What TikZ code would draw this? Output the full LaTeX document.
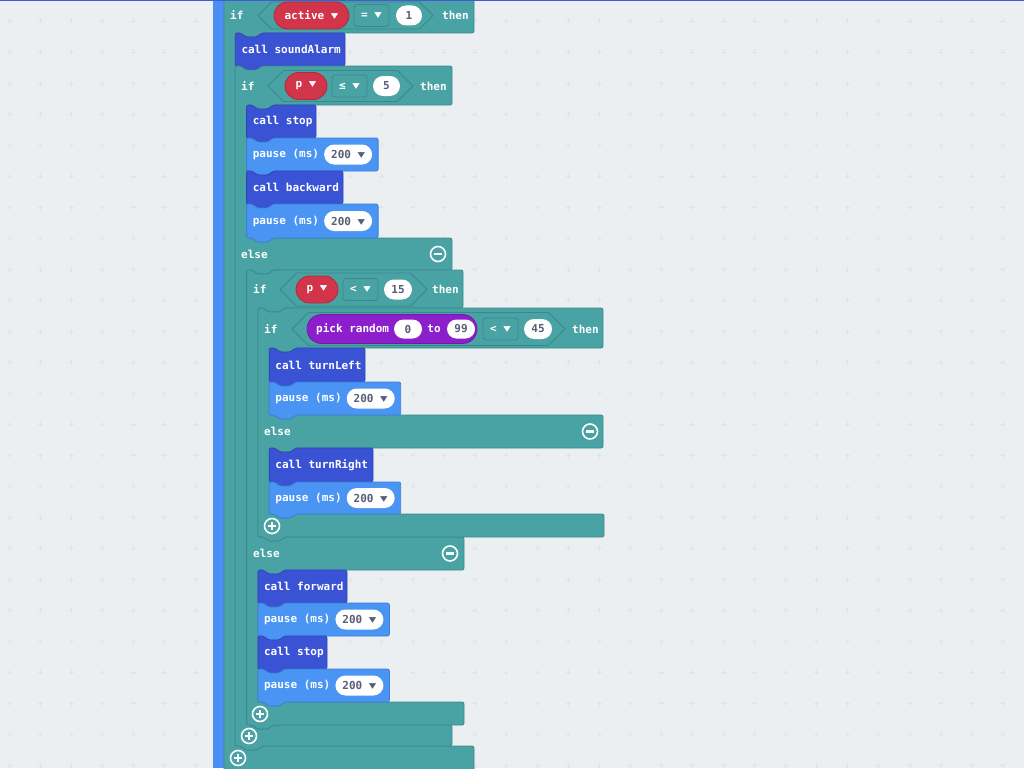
\documentclass[tikz,border=0pt]{standalone}
\usepackage{fontspec}
\newfontfamily\blkfont{DejaVu Sans Mono}
\newfontfamily\symfont{DejaVu Sans}
\usetikzlibrary{shapes.misc}
\definecolor{canvas}{HTML}{ECEFF1}
\definecolor{gridgray}{HTML}{E0E3E6}
\definecolor{strip}{HTML}{4B8FF4}
\definecolor{topline}{HTML}{4458D9}
\definecolor{logic}{HTML}{49A3A4}
\definecolor{logicdark}{HTML}{3B898A}
\definecolor{callblue}{HTML}{3A53D5}
\definecolor{calldark}{HTML}{2F45B8}
\definecolor{pauseblue}{HTML}{4A94F4}
\definecolor{pausedark}{HTML}{3E80D8}
\definecolor{varred}{HTML}{D2354A}
\definecolor{vardark}{HTML}{B02A3C}
\definecolor{mathpurple}{HTML}{8C1FCB}
\definecolor{mathdark}{HTML}{7418AA}
\definecolor{numgray}{HTML}{575E75}
\tikzset{
  txt/.style={font=\blkfont\bfseries\fontsize{11}{13}\selectfont, text=white, inner sep=0pt},
  lbl/.style={txt, anchor=west},
  ifblk/.style={fill=logic, draw=logicdark, line width=0.8pt, rounded corners=2pt},
  callblk/.style={fill=callblue, draw=calldark, line width=0.8pt, rounded corners=2pt},
  pauseblk/.style={fill=pauseblue, draw=pausedark, line width=0.8pt, rounded corners=2pt},
  slot/.style={draw=logicdark, line width=0.8pt},
  ddbox/.style={txt, draw=logicdark, line width=0.8pt, rounded corners=3pt, minimum height=22pt, minimum width=35pt},
  varpill/.style={txt, rounded rectangle, fill=varred, draw=vardark, line width=0.8pt, minimum height=27pt},
  numpill/.style={txt, text=numgray, rounded rectangle, fill=white, minimum height=20pt},
  rndpill/.style={txt, rounded rectangle, fill=mathpurple, draw=mathdark, line width=0.8pt, minimum height=29pt},
  icon/.style={draw=white, line width=1.6pt},
  iconbar/.style={draw=white, line width=2.2pt},
  gridmark/.style={draw=gridgray, line width=0.5pt}
}
\newcommand{\dd}{\scalebox{1.35}[1.05]{\symfont ▾}}
\newcommand{\ntop}[2]{-- ({#1+6},#2) -- ({#1+10},{#2+4}) -- ({#1+22},{#2+4}) -- ({#1+26},#2)}
\newcommand{\tabb}[2]{-- ({#1+26},#2) -- ({#1+22},{#2+4}) -- ({#1+10},{#2+4}) -- ({#1+6},#2)}
\newcommand{\hexslot}[4]{\draw[slot] (#1,#3) -- ({#1+#4},{#3-#4}) -- ({#2-#4},{#3-#4}) -- (#2,#3) -- ({#2-#4},{#3+#4}) -- ({#1+#4},{#3+#4}) -- cycle;}
\newcommand{\callrow}[6]{%
  \draw[callblk] (#2,#3) \ntop{#2}{#3} -- (#4,#3) -- (#4,#5) \tabb{#2}{#5} -- (#2,#5) -- cycle;
  \node[lbl] (#1) at ({#2+6},{(#3+#5)/2}) {#6};}
\newcommand{\pauserow}[4]{%
  \draw[pauseblk] (#2,#3) \ntop{#2}{#3} -- ({#2+131.5},#3) -- ({#2+131.5},#4) \tabb{#2}{#4} -- (#2,#4) -- cycle;
  \node[lbl] (#1) at ({#2+6},{(#3+#4)/2}) {pause (ms)};
  \node[numpill, minimum width=48pt] (#1v) at ({#2+101.5},{(#3+#4)/2}) {200 \dd};}
\newcommand{\plusicon}[2]{\draw[icon] (#1,#2) circle (7.5pt); \draw[iconbar] ({#1-4},#2) -- ({#1+4},#2) (#1,{#2-4}) -- (#1,{#2+4});}
\newcommand{\minusicon}[2]{\draw[icon] (#1,#2) circle (7.5pt); \draw[iconbar] ({#1-4},#2) -- ({#1+4},#2);}

\begin{document}
\begin{tikzpicture}[x=1pt,y=-1pt]
\useasboundingbox (0,0) rectangle (1024,768);
\clip (0,0) rectangle (1024,768);
\fill[canvas] (0,0) rectangle (1024,768);
\foreach \i in {0,...,32} \foreach \j in {0,...,24}
  \draw[gridmark] ({9+31.06*\i},{21+31*\j}) +(-2.5,0) -- +(2.5,0) +(0,-2.5) -- +(0,2.5);
\fill[strip] (213,0) rectangle (224,768);

% if active = 1
\draw[ifblk] (224,-5) \ntop{224}{-5} -- (474,-5) -- (474,33) \tabb{235.3}{33} -- (235.3,33) -- (235.3,746)
  \ntop{235.3}{746} -- (474,746) -- (474,790) -- (224,790) -- cycle;
\hexslot{258}{433}{15.5}{13.5}
\node[lbl] (ifa) at (230,15.5) {if};
\node[varpill, minimum width=75pt] (active) at (311.5,15.5) {active \dd};
\node[ddbox] (opa) at (371.5,15.5) {= \dd};
\node[numpill, minimum width=26pt] (one) at (409,15.5) {1};
\node[lbl] (thena) at (442,15.5) {then};
\plusicon{238}{758}

\callrow{alarm}{235.3}{33}{345}{66}{call soundAlarm}

% if p <= 5
\draw[ifblk] (235.3,66) \ntop{235.3}{66} -- (452,66) -- (452,105) \tabb{246.6}{105} -- (246.6,105) -- (246.6,238)
  \ntop{246.6}{238} -- (452,238) -- (452,270) \tabb{246.6}{270} -- (246.6,270) -- (246.6,725)
  \ntop{246.6}{725} -- (452,725) -- (452,746) \tabb{235.3}{746} -- (235.3,746) -- cycle;
\hexslot{268}{413}{86}{15.5}
\node[lbl] (ifb) at (241,86) {if};
\node[varpill, minimum width=42pt] (pb) at (306,86) {p \dd};
\node[ddbox] (opb) at (349.5,86) {≤ \dd};
\node[numpill, minimum width=27pt] (five) at (386.5,86) {5};
\node[lbl] (thenb) at (420,86) {then};
\node[lbl] (elseb) at (241,254) {else};
\minusicon{438}{254}
\plusicon{249}{736}

\callrow{stopa}{246.6}{105}{316}{138}{call stop}
\pauserow{pausea}{246.6}{138}{171}
\callrow{back}{246.6}{171}{343}{204}{call backward}
\pauserow{pauseb}{246.6}{204}{238}

% if p < 15
\draw[ifblk] (246.6,270) \ntop{246.6}{270} -- (463,270) -- (463,308) \tabb{257.9}{308} -- (257.9,308) -- (257.9,537)
  \ntop{257.9}{537} -- (464,537) -- (464,570) \tabb{257.9}{570} -- (257.9,570) -- (257.9,702)
  \ntop{257.9}{702} -- (464,702) -- (464,725) \tabb{246.6}{725} -- (246.6,725) -- cycle;
\hexslot{280}{427}{289.5}{16.5}
\node[lbl] (ifc) at (253,289.5) {if};
\node[varpill, minimum width=42pt] (pc) at (317,289.5) {p \dd};
\node[ddbox] (opc) at (360.5,289.5) {< \dd};
\node[numpill, minimum width=28pt] (fifteen) at (398,289.5) {15};
\node[lbl] (thenc) at (432,289.5) {then};
\node[lbl] (elsec) at (253,553.5) {else};
\minusicon{450}{553.5}
\plusicon{260}{714}

% if pick random < 45
\draw[ifblk] (257.9,308) \ntop{257.9}{308} -- (603,308) -- (603,348) \tabb{269.2}{348} -- (269.2,348) -- (269.2,415)
  \ntop{269.2}{415} -- (603,415) -- (603,448) \tabb{269.2}{448} -- (269.2,448) -- (269.2,514)
  \ntop{269.2}{514} -- (604,514) -- (604,537) \tabb{257.9}{537} -- (257.9,537) -- cycle;
\hexslot{292}{565}{329}{16.5}
\node[lbl] (ifd) at (264,329) {if};
\node[rndpill, minimum width=170pt] (rnd) at (392,329) {};
\node[lbl] (pick) at (316,329) {pick random};
\node[numpill, minimum width=28pt, minimum height=19pt] (zero) at (408,329) {0};
\node[txt] (to) at (434,329) {to};
\node[numpill, minimum width=28pt, minimum height=19pt] (nn) at (461,329) {99};
\node[ddbox] (opd) at (500.5,329) {< \dd};
\node[numpill, minimum width=28pt] (ff) at (538,329) {45};
\node[lbl] (thend) at (572,329) {then};
\node[lbl] (elsed) at (264,431.5) {else};
\minusicon{590}{431.5}
\plusicon{272}{526}

\callrow{left}{269.2}{348}{365}{382}{call turnLeft}
\pauserow{pausec}{269.2}{382}{415}
\callrow{right}{269.2}{448}{373}{482}{call turnRight}
\pauserow{paused}{269.2}{482}{514}

\callrow{fwd}{257.9}{570}{347}{603}{call forward}
\pauserow{pausee}{257.9}{603}{636}
\callrow{stopb}{257.9}{636}{327}{669}{call stop}
\pauserow{pausef}{257.9}{669}{702}

\fill[topline] (0,0) rectangle (1024,1.4);
\end{tikzpicture}
\end{document}
